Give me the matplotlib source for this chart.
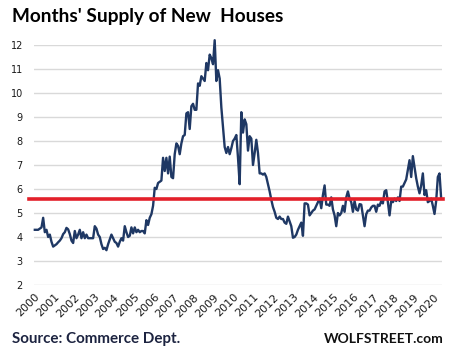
import numpy as np
import matplotlib
matplotlib.use("Agg")
import matplotlib.pyplot as plt

# Months' supply of new houses, monthly, Jan 2000 .. May 2020
supply_2000 = [4.3, 4.3, 4.3, 4.35, 4.4, 4.8, 4.2, 4.3, 4.0, 4.1, 3.8, 3.6]
supply_2001 = [3.65, 3.7, 3.78, 3.85, 3.95, 4.12, 4.2, 4.38, 4.32, 4.12, 3.85, 3.75]
supply_2002 = [4.25, 3.95, 4.1, 4.3, 3.95, 4.2, 3.95, 4.1, 3.95, 3.95, 3.95, 3.95]
supply_2003 = [4.45, 4.35, 4.1, 4.0, 3.7, 3.5, 3.55, 3.45, 3.7, 3.9, 4.1, 3.95]
supply_2004 = [3.8, 3.75, 3.6, 3.8, 3.95, 3.85, 4.45, 4.2, 4.0, 4.05, 4.4, 4.15]
supply_2005 = [4.4, 4.2, 4.3, 4.2, 4.25, 4.25, 4.15, 4.7, 4.5, 4.8, 4.95, 5.3]
supply_2006 = [6.05, 6.0, 6.25, 6.3, 6.35, 7.3, 6.75, 7.3, 6.65, 7.35, 6.5, 6.45]
supply_2007 = [7.45, 7.9, 7.8, 7.45, 7.9, 8.2, 8.25, 9.15, 9.2, 8.5, 9.45, 9.55]
supply_2008 = [9.3, 9.3, 10.4, 10.3, 10.7, 10.6, 10.5, 11.25, 10.95, 11.6, 11.45, 11.2]
supply_2009 = [12.2, 10.5, 10.95, 10.6, 9.4, 8.6, 7.75, 7.5, 7.75, 7.45, 7.7, 8.0]
supply_2010 = [8.1, 8.25, 7.3, 6.2, 9.2, 8.35, 8.9, 8.7, 7.6, 8.2, 8.1, 7.0]
supply_2011 = [7.5, 8.05, 7.5, 6.65, 6.65, 6.6, 6.65, 6.5, 6.2, 5.9, 5.55, 5.25]
supply_2012 = [5.05, 4.8, 4.75, 4.85, 4.75, 4.75, 4.6, 4.55, 4.85, 4.65, 4.45, 3.97]
supply_2013 = [4.0, 4.1, 4.3, 4.45, 4.6, 4.05, 5.4, 5.4, 5.35, 4.9, 5.0, 5.1]
supply_2014 = [5.15, 5.3, 5.45, 5.6, 5.2, 5.75, 6.15, 5.35, 5.35, 5.3, 5.65, 5.15]
supply_2015 = [4.9, 4.45, 5.0, 4.9, 5.0, 5.3, 5.05, 5.65, 5.9, 5.6, 5.45, 5.05]
supply_2016 = [5.5, 5.15, 5.1, 5.37, 5.35, 4.9, 4.45, 4.95, 5.1, 5.1, 5.23, 5.3]
supply_2017 = [5.3, 5.05, 5.35, 5.3, 5.5, 5.4, 5.9, 5.95, 5.45, 4.9, 5.5, 5.45]
supply_2018 = [5.6, 5.5, 5.65, 5.5, 6.1, 6.1, 6.25, 6.4, 6.8, 7.2, 6.5, 7.37]
supply_2019 = [6.9, 6.45, 6.1, 5.82, 6.15, 6.65, 5.75, 5.95, 5.45, 5.5, 5.6, 5.3]
supply_2020 = [4.96, 5.5, 6.5, 6.65, 5.6]

supply = np.array(supply_2000 + supply_2001 + supply_2002 + supply_2003 + supply_2004
                  + supply_2005 + supply_2006 + supply_2007 + supply_2008 + supply_2009
                  + supply_2010 + supply_2011 + supply_2012 + supply_2013 + supply_2014
                  + supply_2015 + supply_2016 + supply_2017 + supply_2018 + supply_2019
                  + supply_2020)
months = np.arange(len(supply))

years = list(range(2000, 2021))
year_labels = [str(y) for y in years]
y_ticks = list(range(2, 13))
current_level = 5.6   # red line

W, H = 449, 356
fig = plt.figure(figsize=(W / 100, H / 100), dpi=100)
ax = fig.add_axes([34 / W, 71 / H, 408 / W, 240 / H])

ax.set_xlim(-0.5, len(supply) - 0.5)
ax.set_ylim(2, 12)

ax.plot(months, supply, color='#1f3864', lw=1.7, clip_on=False, zorder=3)
ax.axhline(current_level, xmin=-0.012, xmax=1.003, color='#e3202a', lw=2.6,
           clip_on=False, zorder=4)

ax.set_yticks(y_ticks)
ax.set_yticklabels([str(v) for v in y_ticks], fontsize=7, color='#1a1a1a')
ax.yaxis.grid(True, color='#d9d9d9', lw=1.0)
ax.set_axisbelow(True)

ax.set_xticks([12 * (y - 2000) - 0.5 for y in years])
ax.set_xticklabels(year_labels, fontsize=8, color='#1a1a1a', rotation=45,
                   ha='right', va='top', rotation_mode='anchor')

ax.tick_params(axis='both', length=0)
ax.tick_params(axis='y', pad=8)
ax.tick_params(axis='x', pad=5)
for s in ax.spines.values():
    s.set_visible(False)

fig.text(12 / W, 1 - 21.7 / H, "Months' Supply of New  Houses", fontsize=13.7,
         weight='bold', family='Lato', color='black', va='baseline', ha='left')
fig.text(12 / W, 1 - 343 / H, "Source: Commerce Dept.", fontsize=10.9,
         weight='bold', family='Lato', color='#1c2340', va='baseline', ha='left')
fig.text(444 / W, 1 - 343 / H, "WOLFSTREET.com", fontsize=10,
         weight='bold', family='Lato', color='#111111', va='baseline', ha='right')

fig.savefig('out.png', dpi=100)
